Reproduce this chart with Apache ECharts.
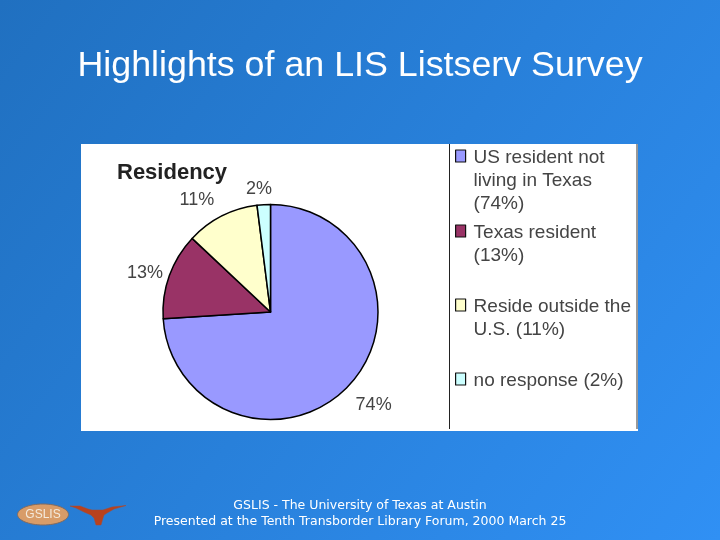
<!DOCTYPE html>
<html><head><meta charset="utf-8">
<style>html,body{margin:0;padding:0;background:#2a80d8}#c{width:720px;height:540px}</style>
<script src="https://cdn.jsdelivr.net/npm/echarts@6/dist/echarts.min.js"></script>
</head><body><div id="c"></div>
<script>
const categories = ['US resident not\nliving in Texas\n(74%)', 'Texas resident\n(13%)', 'Reside outside the\nU.S. (11%)', 'no response (2%)'];
const values = [74, 13, 11, 2];
const colors = ['#9999ff', '#993366', '#ffffcc', '#ccffff'];
const firstLineCenters = [158, 233, 307, 381];
const labelNudge = [[-7, 11], [10, 2], [3, -5], [14, -4]];
const titleText = 'Highlights of an LIS Listserv Survey';
const chartTitle = 'Residency';
const footerLines = ['GSLIS - The University of Texas at Austin', 'Presented at the Tenth Transborder Library Forum, 2000 March 25'];

const chart = echarts.init(document.getElementById('c'), null, {renderer: 'canvas'});
const sans = '"Liberation Sans", sans-serif';
const tahomaLike = '"DejaVu Sans", sans-serif';
const lineH = 23;
chart.setOption({
  animation: false,
  backgroundColor: {type: 'linear', x: 0, y: 0, x2: 1, y2: 1, colorStops: [
    {offset: 0, color: '#2070c0'}, {offset: 1, color: '#3090f4'}]},
  title: [
    {text: titleText, left: 355, top: 43, textAlign: 'center',
     textStyle: {color: '#fff', fontSize: 35.8, fontWeight: 'normal', fontFamily: sans}},
    {text: chartTitle, left: 112, top: 157,
     textStyle: {color: '#222', fontSize: 22, fontWeight: 'bold', fontFamily: sans}}
  ],
  legend: categories.map((name, i) => {
    const lines = name.split('\n').length;
    const boxH = (2 * lines - 1) * lineH;
    return {
      data: [name], left: 455, top: firstLineCenters[i] - boxH / 2, orient: 'vertical',
      itemWidth: 10, itemHeight: 16, padding: 0, selectedMode: false, itemGap: 0,
      icon: 'path://M0,0h10v12h-10z M0,16h0',
      formatter: n => '\n'.repeat(n.split('\n').length - 1) + n,
      itemStyle: {borderColor: '#111', borderWidth: 1.2},
      textStyle: {color: '#444', fontSize: 19, lineHeight: lineH, padding: [0, 0, 0, 3], fontFamily: sans}
    };
  }),
  graphic: [
    {type: 'rect', z: -10, shape: {x: 81, y: 144, width: 557, height: 287}, style: {fill: '#fff'}},
    {type: 'line', z: 0, shape: {x1: 449.5, y1: 144, x2: 449.5, y2: 429}, style: {stroke: '#222', lineWidth: 1}},
    {type: 'line', z: 0, shape: {x1: 637, y1: 144, x2: 637, y2: 429}, style: {stroke: '#333', lineWidth: 1}},
    {type: 'text', x: 360, y: 506, style: {text: footerLines[0], fill: '#fff', fontSize: 12.5, fontFamily: tahomaLike, align: 'center', verticalAlign: 'middle'}},
    {type: 'text', x: 360, y: 522, style: {text: footerLines[1], fill: '#fff', fontSize: 12.5, fontFamily: tahomaLike, align: 'center', verticalAlign: 'middle'}},
    {type: 'ellipse', shape: {cx: 43, cy: 514.5, rx: 25.5, ry: 10.5}, style: {fill: '#d89c68', stroke: '#7f6a60', lineWidth: 1}},
    {type: 'text', x: 43, y: 514.5, style: {text: 'GSLIS', fill: '#f4eadc', fontSize: 12, fontFamily: sans, align: 'center', verticalAlign: 'middle'}},
    {type: 'polygon', shape: {points: [[70,506],[80,506],[88,509],[92,510],[103,510],[112,507],[126,505.5],[114,509],[107,513],[104,515],[103,518],[101,525],[96,525],[94,518],[91,515],[84,512],[76,508]]},
     style: {fill: '#b8421e', stroke: '#a84a30', lineWidth: 0.5}}
  ],
  series: [{
    type: 'pie',
    center: [270.5, 312],
    radius: [0, 107.5],
    startAngle: 90,
    clockwise: true,
    data: categories.map((name, i) => ({name, value: values[i], itemStyle: {color: colors[i]}})),
    itemStyle: {borderColor: '#000', borderWidth: 1.5},
    emphasis: {disabled: true},
    label: {show: true, position: 'outside', formatter: '{c}%', color: '#444', fontSize: 18, fontFamily: sans},
    labelLine: {show: false, length: 12, length2: 0},
    labelLayout: p => ({dx: labelNudge[p.dataIndex][0], dy: labelNudge[p.dataIndex][1]}),
    avoidLabelOverlap: false
  }]
});
</script></body></html>
